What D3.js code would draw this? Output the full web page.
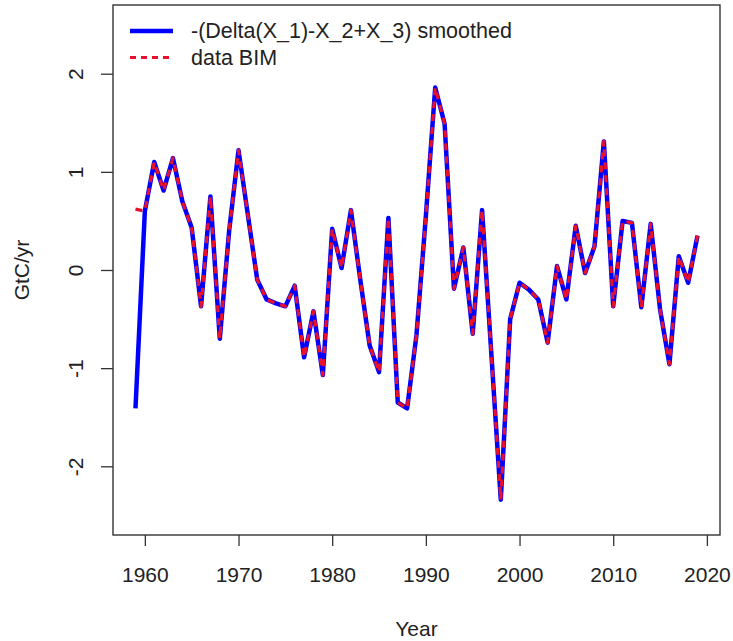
<!DOCTYPE html>
<html>
<head>
<meta charset="utf-8">
<script src="https://cdn.jsdelivr.net/npm/d3@7"></script>
<style>
  body { margin: 0; background: #fff; }
  text { font-family: Arial, "Liberation Sans", Helvetica, sans-serif; fill: #222; }
</style>
</head>
<body>
<div id="chart"></div>
<script>
// years on the x axis
const years = [1959, 1960, 1961, 1962, 1963, 1964, 1965, 1966, 1967, 1968,
  1969, 1970, 1971, 1972, 1973, 1974, 1975, 1976, 1977, 1978,
  1979, 1980, 1981, 1982, 1983, 1984, 1985, 1986, 1987, 1988,
  1989, 1990, 1991, 1992, 1993, 1994, 1995, 1996, 1997, 1998,
  1999, 2000, 2001, 2002, 2003, 2004, 2005, 2006, 2007, 2008,
  2009, 2010, 2011, 2012, 2013, 2014, 2015, 2016, 2017, 2018, 2019];

// -(Delta(X_1)-X_2+X_3) smoothed
const smoothed = [-1.41, 0.60, 1.10, 0.81, 1.14, 0.70, 0.43, -0.37, 0.75, -0.70,
  0.40, 1.22, 0.56, -0.10, -0.30, -0.34, -0.37, -0.16, -0.89, -0.42,
  -1.07, 0.42, 0.02, 0.61, -0.10, -0.77, -1.04, 0.53, -1.35, -1.41,
  -0.66, 0.55, 1.86, 1.49, -0.19, 0.23, -0.65, 0.61, -0.87, -2.34,
  -0.50, -0.13, -0.20, -0.30, -0.74, 0.04, -0.30, 0.45, -0.03, 0.24,
  1.31, -0.37, 0.50, 0.48, -0.38, 0.47, -0.40, -0.96, 0.14, -0.13, 0.35];

// data BIM
const bim = [0.62, 0.60, 1.10, 0.81, 1.14, 0.70, 0.43, -0.37, 0.75, -0.70,
  0.40, 1.22, 0.56, -0.10, -0.30, -0.34, -0.37, -0.16, -0.89, -0.42,
  -1.07, 0.42, 0.02, 0.61, -0.10, -0.77, -1.04, 0.53, -1.35, -1.41,
  -0.66, 0.55, 1.86, 1.49, -0.19, 0.23, -0.65, 0.61, -0.87, -2.34,
  -0.50, -0.13, -0.20, -0.30, -0.74, 0.04, -0.30, 0.45, -0.03, 0.24,
  1.31, -0.37, 0.50, 0.48, -0.38, 0.47, -0.40, -0.96, 0.14, -0.13, 0.35];

const xTicks = [1960, 1970, 1980, 1990, 2000, 2010, 2020];
const yTicks = [-2, -1, 0, 1, 2];

const width = 733, height = 641;
const margin = { top: 5, right: 13, bottom: 106, left: 113 };

const svg = d3.select('#chart').append('svg')
  .attr('width', width)
  .attr('height', height);

// R style: 4% padding around the data range
const x = d3.scaleLinear()
  .domain([1956.6, 2021.4])
  .range([margin.left, width - margin.right]);

const y = d3.scaleLinear()
  .domain([-2.7, 2.7])
  .range([height - margin.bottom, margin.top]);

// x axis
const xAxis = svg.append('g')
  .attr('transform', `translate(0,${height - margin.bottom})`)
  .call(d3.axisBottom(x).tickValues(xTicks).tickFormat(d => String(d)).tickSize(11).tickPadding(21));
xAxis.select('.domain').remove();
xAxis.selectAll('line').attr('stroke', '#333').attr('stroke-width', 1.3);
xAxis.selectAll('text').style('font-size', '21px').attr('fill', '#222');

// y axis, labels rotated like R's las=0 (plain hyphen as minus)
const yAxis = svg.append('g')
  .attr('transform', `translate(${margin.left},0)`)
  .call(d3.axisLeft(y).tickValues(yTicks).tickSize(12).tickFormat(d => String(d)));
yAxis.select('.domain').remove();
yAxis.selectAll('line').attr('stroke', '#333').attr('stroke-width', 1.3);
yAxis.selectAll('text')
  .style('font-size', '21px')
  .attr('fill', '#222')
  .attr('text-anchor', 'middle')
  .attr('dy', null)
  .attr('x', null)
  .attr('transform', 'translate(-38,0) rotate(-90)')
  .attr('dominant-baseline', 'central');

// plot box
svg.append('rect')
  .attr('x', margin.left)
  .attr('y', margin.top)
  .attr('width', width - margin.left - margin.right)
  .attr('height', height - margin.top - margin.bottom)
  .attr('fill', 'none')
  .attr('stroke', '#333')
  .attr('stroke-width', 1.4);

// axis titles
svg.append('text')
  .attr('x', (margin.left + width - margin.right) / 2)
  .attr('y', 636)
  .attr('text-anchor', 'middle')
  .style('font-size', '21px')
  .text('Year');

svg.append('text')
  .attr('transform', `translate(29,${(margin.top + height - margin.bottom) / 2}) rotate(-90)`)
  .attr('text-anchor', 'middle')
  .style('font-size', '21px')
  .text('GtC/yr');

// lines
const line = vals => d3.line()
  .x((d, i) => x(years[i]))
  .y(d => y(d))(vals);

svg.append('path')
  .attr('d', line(smoothed))
  .attr('fill', 'none')
  .attr('stroke', '#0000ff')
  .attr('stroke-width', 4.5)
  .attr('stroke-linejoin', 'round');

svg.append('path')
  .attr('d', line(bim))
  .attr('fill', 'none')
  .attr('stroke', '#e8102a')
  .attr('stroke-width', 3.2)
  .attr('stroke-dasharray', '7,6')
  .attr('stroke-linejoin', 'round');

// legend (no box)
const legendItems = [
  { label: '-(Delta(X_1)-X_2+X_3) smoothed', color: '#0000ff', w: 4.5, dash: null, y: 31 },
  { label: 'data BIM', color: '#e8102a', w: 3.2, dash: '6,5', y: 57.5 }
];

const legend = svg.append('g').selectAll('g')
  .data(legendItems)
  .enter()
  .append('g');

legend.append('line')
  .attr('x1', 130).attr('x2', 173)
  .attr('y1', d => d.y).attr('y2', d => d.y)
  .attr('stroke', d => d.color)
  .attr('stroke-width', d => d.w)
  .attr('stroke-dasharray', d => d.dash);

legend.append('text')
  .attr('x', 191)
  .attr('y', d => d.y)
  .attr('dominant-baseline', 'central')
  .style('font-size', '21.5px')
  .text(d => d.label);
</script>
</body>
</html>
